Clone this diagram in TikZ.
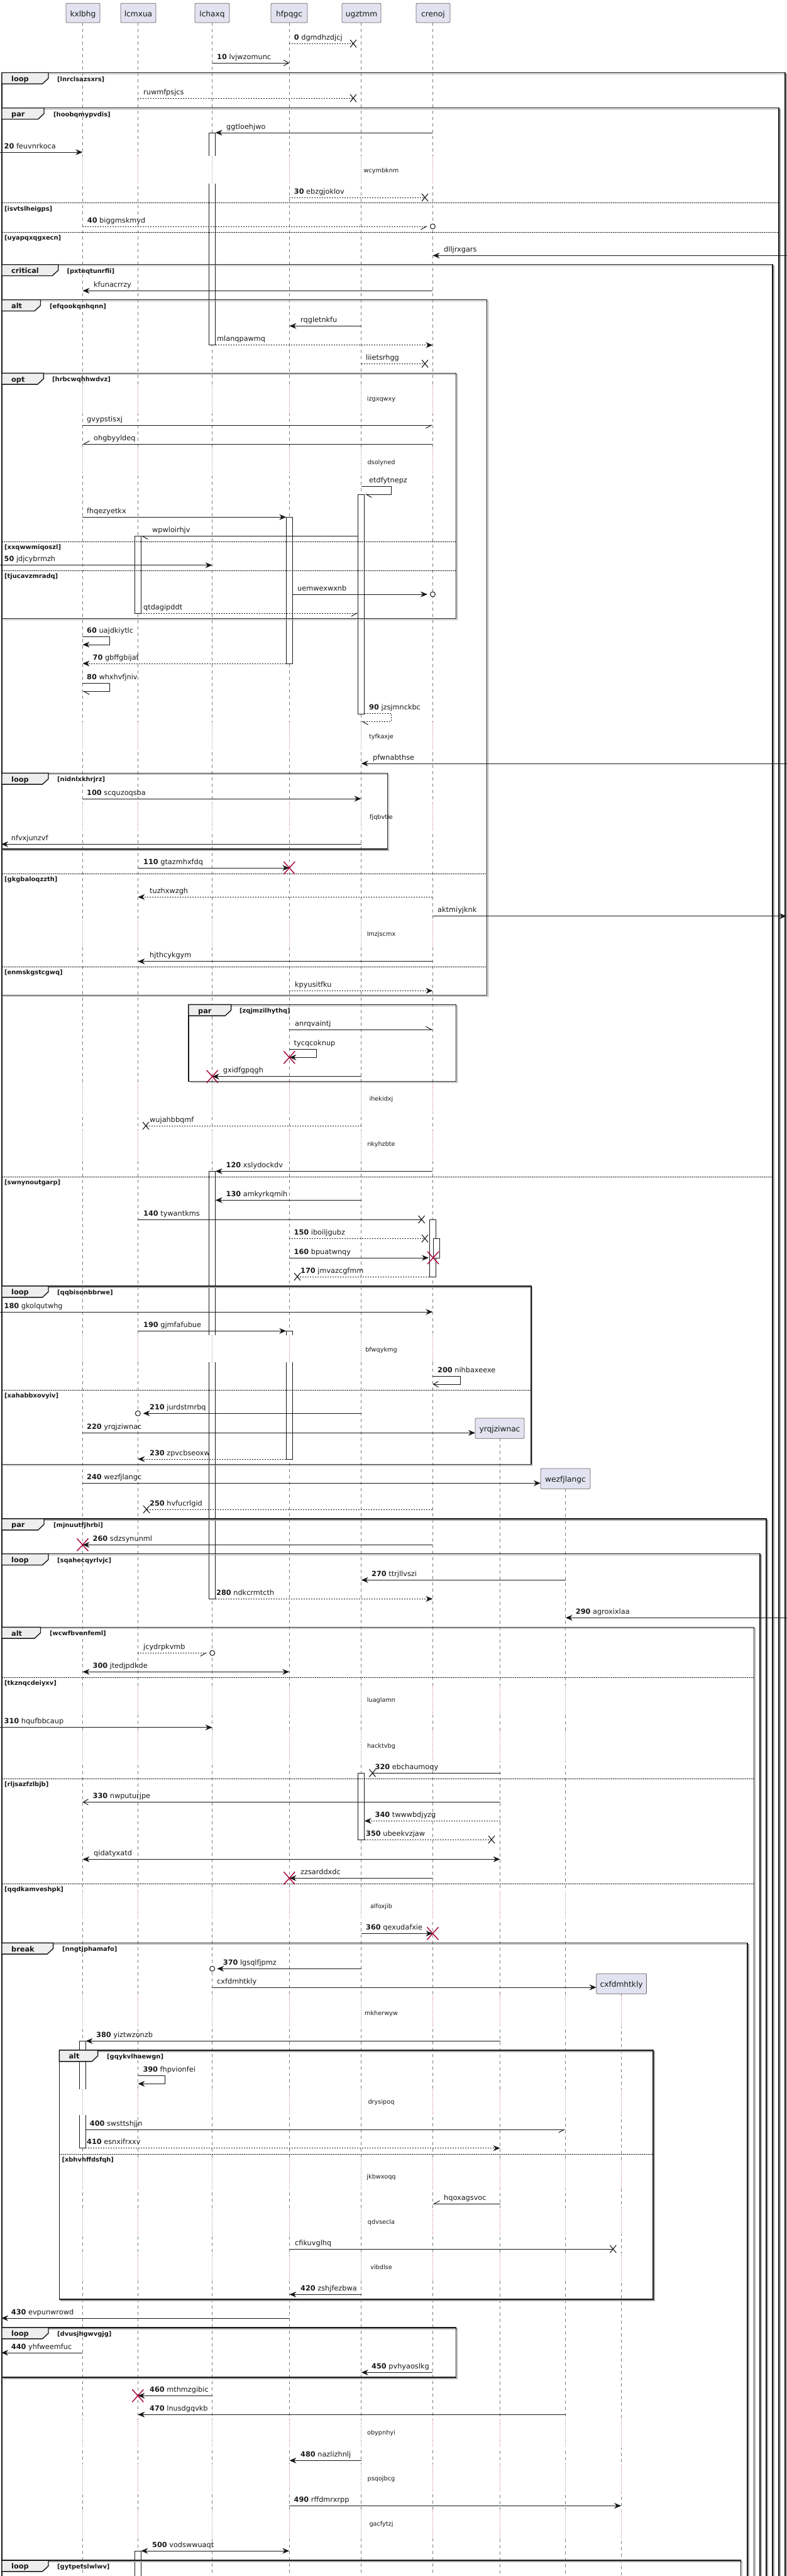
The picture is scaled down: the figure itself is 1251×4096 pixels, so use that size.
\documentclass[tikz,border=0pt]{standalone}
\usepackage{fontspec}
\setmainfont{DejaVu Sans}
\usetikzlibrary{arrows.meta}
\definecolor{lifegray}{RGB}{125,125,125}
\definecolor{delred}{RGB}{190,70,110}
\definecolor{destroyred}{RGB}{168,0,54}
\definecolor{partfill}{RGB}{226,226,240}
\definecolor{tabfill}{RGB}{238,238,238}
\definecolor{ink}{RGB}{24,24,24}
\newcommand\msgfont{\fontsize{11.3}{13}\selectfont}
\newcommand\delfont{\fontsize{9.7}{11}\selectfont}
\newcommand\condfont{\fontsize{9.9}{11}\selectfont\bfseries}
\newcommand\tabfont{\fontsize{11.3}{13}\selectfont\bfseries}
\newcommand\partfont{\fontsize{12.2}{14}\selectfont}
\newcommand\nb[1]{\textbf{#1}\ }
\def\xkx{131.4}\def\xlc{219.3}\def\xlh{337.7}\def\xhf{460.3}\def\xug{574.7}
\def\xcr{688.4}\def\xyr{795.6}\def\xwz{899.6}\def\xcx{988.2}
\def\Lsix{\xkx/lifegray,\xlc/delred,\xlh/lifegray,\xhf/delred,\xug/lifegray,\xcr/delred}
\def\Leight{\xkx/lifegray,\xlc/delred,\xlh/lifegray,\xhf/delred,\xug/lifegray,\xcr/delred,\xyr/delred,\xwz/lifegray}
\def\Lnine{\xkx/lifegray,\xlc/delred,\xlh/lifegray,\xhf/delred,\xug/lifegray,\xcr/delred,\xyr/delred,\xwz/lifegray,\xcx/delred}
\tikzset{
  life/.style={draw=lifegray, line width=0.8pt, dash pattern=on 5pt off 5pt},
  msg/.style={draw=ink, line width=1pt},
  dotm/.style={msg, dash pattern=on 2pt off 2pt},
  fh/.style={arrows={-Stealth[length=11pt,width=9pt,inset=3.5pt]}},
  fb/.style={arrows={Stealth[length=11pt,width=9pt,inset=3.5pt]-Stealth[length=11pt,width=9pt,inset=3.5pt]}},
  oh/.style={arrows={-Straight Barb[length=8pt,width=9pt]}},
  hh/.style={arrows={-Straight Barb[length=9pt,width=10pt,harpoon]}},
  hs/.style={arrows={-Straight Barb[length=9pt,width=10pt,harpoon,swap]}},
  lbl/.style={anchor=base west, inner sep=0pt, font=\msgfont, text=ink},
  dellbl/.style={anchor=base, inner sep=0pt, font=\delfont, text=ink},
  condlbl/.style={anchor=base west, inner sep=0pt, font=\condfont, text=ink},
  tablbl/.style={anchor=base west, inner sep=0pt, font=\tabfont, text=ink},
  partlbl/.style={anchor=base, inner sep=0pt, font=\partfont, text=ink},
  partbox/.style={draw=black!60, line width=0.8pt, fill=partfill, rounded corners=2pt},
  actbox/.style={draw=ink, line width=0.8pt, fill=white},
  frameline/.style={draw=ink, line width=1.4pt},
  frameshadow/.style={draw=black!35, line width=1.2pt},
  divline/.style={draw=ink, line width=1pt, dash pattern=on 1.5pt off 1.5pt}
}
% message: name, style, x1, x2, y, labelx, label
\newcommand\Msg[7]{%
  \coordinate (#1-s) at (#3,#5);
  \coordinate (#1-e) at (#4,#5);
  \draw[#2] (#1-s) -- (#1-e);
  \node[lbl] (#1-t) at (#6,#5-6) {#7};}
% self message: name, style, x1, xr, y1, y2, xend, labelx, label
\newcommand\Self[9]{%
  \coordinate (#1-a) at (#3,#5);
  \coordinate (#1-b) at (#4,#5);
  \coordinate (#1-c) at (#4,#6);
  \coordinate (#1-d) at (#7,#6);
  \draw[#2] (#1-a) -- (#1-b) -- (#1-c) -- (#1-d);
  \node[lbl] (#1-t) at (#8,#5-6) {#9};}
\newcommand\XLost[2]{\draw[ink, line width=1.1pt] (#1-5,#2-6) -- (#1+5,#2+6) (#1-5,#2+6) -- (#1+5,#2-6);}
\newcommand\XDead[2]{\draw[destroyred, line width=1.4pt] (#1-9,#2-10) -- (#1+9,#2+10) (#1-9,#2+10) -- (#1+9,#2-10);}
\newcommand\Circ[2]{\draw[ink, line width=1pt, fill=white] (#1,#2) circle (4pt);}
\newcommand\Act[3]{\draw[actbox] (#1-5,#2) rectangle (#1+5,#3);}
% delay: y1, y2, text centre y, text, lifelines
\newcommand\Delay[5]{%
  \foreach \dx/\dc in #5 {
    \fill[white] (\dx-7,#1) rectangle (\dx+7,#2);
    \draw[draw=\dc, line width=0.9pt, dash pattern=on 1pt off 2pt] (\dx,#1) -- (\dx,#2);
  }
  \node[dellbl] (dl-#4) at (606.5,#3+2.5) {#4};}
% participant box: name, x1, x2, ytop, ybot, text
\newcommand\PBox[6]{%
  \draw[partbox] (#2,#4) rectangle (#3,#5);
  \node[partlbl] (#1) at ({(#2+#3)/2},#4+21.2) {#6};}
% tab and texts of a frame: name, top, x1, tabright, label, cond, condx
\newcommand\FrameTab[7]{%
  \draw[frameline, fill=tabfill] (#3,#2) -- (#4,#2) -- (#4,#2+9) -- (#4-9.5,#2+17.8) -- (#3,#2+17.8) -- cycle;
  \node[tablbl] (#1-lab) at (#3+15,#2+13.8) {#5};
  \node[condlbl] (#1-cond) at (#7,#2+13.5) {#6};}
% closed frame: name, top, x1, x2, bottom
\newcommand\FrameC[5]{%
  \draw[frameshadow] (#3+2,#2+2) -- (#4+2,#2+2) -- (#4+2,#5+2) -- (#3+2,#5+2);
  \draw[frameline] (#3,#2) rectangle (#4,#5);}
% open frame (runs past the bottom): name, top, x1, x2
\newcommand\FrameO[4]{%
  \draw[frameshadow] (#3+2,#2+2) -- (#4+2,#2+2) -- (#4+2,4110);
  \draw[frameline] (#3,4110) -- (#3,#2) -- (#4,#2) -- (#4,4110);}
% divider: name, x1, x2, y, text
\newcommand\Divider[5]{%
  \draw[divline] (#2,#4) -- (#3,#4);
  \node[condlbl] (#1) at (#2+4,#4+12.3) {#5};}
\begin{document}
\begin{tikzpicture}[x=1pt, y=-1pt]
\useasboundingbox (0,0) rectangle (1251,4096);
\fill[white] (0,0) rectangle (1251,4096);
% lifelines
\draw[life] (\xkx,36) -- (\xkx,4110);
\draw[life] (\xlc,36) -- (\xlc,4110);
\draw[life] (\xlh,36) -- (\xlh,4110);
\draw[life] (\xhf,36) -- (\xhf,4110);
\draw[life] (\xug,36) -- (\xug,4110);
\draw[life] (\xcr,36) -- (\xcr,4110);
\draw[life] (\xyr,2287.3) -- (\xyr,4110);
\draw[life] (\xwz,2367.3) -- (\xwz,4110);
\draw[life] (\xcx,3170.3) -- (\xcx,4110);
% participants
\PBox{p-kx}{105}{159}{5.3}{36}{kxlbhg}
\PBox{p-lc}{192}{248}{5.3}{36}{lcmxua}
\PBox{p-lh}{310}{365}{5.3}{36}{lchaxq}
\PBox{p-hf}{431}{489}{5.3}{36}{hfpqgc}
\PBox{p-ug}{544}{606}{5.3}{36}{ugztmm}
\PBox{p-cr}{662}{716}{5.3}{36}{crenoj}
\PBox{p-yr}{756}{834}{2255}{2287.3}{yrqjziwnac}
\PBox{p-wz}{860}{939}{2335}{2367.3}{wezfjlangc}
\PBox{p-cx}{948.7}{1028.5}{3138.3}{3170.3}{cxfdmhtkly}
% activations
\Act{\xlh}{211}{548.7}
\Act{\xhf}{822.3}{1055}
\Act{\xug}{786}{1135}
\Act{\xlc}{852.3}{975}
\Act{\xlh}{1862.3}{2542.3}
\Act{\xcr}{1939}{2030}
\Act{\xcr+5.5}{1969.3}{2000}
\Act{\xhf}{2116.3}{2320}
\Act{\xug}{2819.3}{2925}
\Act{\xkx}{3245.3}{3415.7}
\Act{\xlc}{4056}{4110}
% delays
\Delay{248}{292}{272}{wcymbknm}{\Lsix}
\Delay{612}{657}{634.7}{izgxqwxy}{\Lsix}
\Delay{712}{752}{736}{dsolyned}{\Lsix}
\Delay{1148}{1193}{1172.3}{tyfkaxje}{\Lsix}
\Delay{1277}{1322}{1300}{fjqbvtie}{\Lsix}
\Delay{1460}{1507}{1486}{lmzjscmx}{\Lsix}
\Delay{1723}{1770}{1748.3}{ihekidxj}{\Lsix}
\Delay{1797}{1843}{1820}{nkyhzbte}{\Lsix}
\Delay{2123}{2166}{2146.7}{bfwqykmg}{\Lsix}
\Delay{2680}{2727}{2704.3}{luaglamn}{\Leight}
\Delay{2752}{2800}{2776.7}{hacktvbg}{\Leight}
\Delay{3007}{3052}{3032.3}{alfoxjib}{\Leight}
\Delay{3173}{3223}{3202.3}{mkherwyw}{\Lnine}
\Delay{3322}{3363}{3343.3}{drysipoq}{\Lnine}
\Delay{3433}{3480}{3462.3}{jkbwxoqq}{\Lnine}
\Delay{3510}{3553}{3534.3}{qdvsecla}{\Lnine}
\Delay{3583}{3627}{3606}{vibdlse}{\Lnine}
\Delay{3847}{3892}{3869}{obypnhyi}{\Lnine}
\Delay{3918}{3963}{3942.3}{psqojbcg}{\Lnine}
\Delay{3990}{4037}{4014.3}{gacfytzj}{\Lnine}
% frames
\FrameO{f1}{115.5}{3}{1249}
\FrameO{f2}{171.7}{3}{1239}
\FrameO{f3}{420.7}{3}{1229}
\FrameC{f4}{476.7}{3}{774.6}{1582.7}
\FrameC{f5}{593.3}{3}{725.5}{983.3}
\FrameC{f6}{1229.3}{3}{616.6}{1350}
\FrameC{f7}{1597.3}{300}{725.5}{1719.3}
\FrameC{f8}{2045}{3}{844.8}{2328.3}
\FrameO{f9}{2415}{3}{1219}
\FrameO{f10}{2470.7}{3}{1209}
\FrameO{f11}{2587.3}{3}{1199.5}
\FrameO{f12}{3089.3}{3}{1189}
\FrameC{f13}{3260}{94.3}{1039}{3656}
\FrameC{f14}{3701}{3}{725.5}{3780}
\FrameO{f15}{4071}{3}{1178.5}
\FrameTab{f1}{115.5}{3}{77}{loop}{[lnrclsazsxrs]}{91}
\FrameTab{f2}{171.7}{3}{70}{par}{[hoobqmypvdis]}{85}
\FrameTab{f3}{420.7}{3}{92.7}{critical}{[pxteqtunrfli]}{106.4}
\FrameTab{f4}{476.7}{3}{64.5}{alt}{[efqookqnhqnn]}{79}
\FrameTab{f5}{593.3}{3}{69.3}{opt}{[hrbcwqhhwdvz]}{83}
\FrameTab{f6}{1229.3}{3}{77}{loop}{[nidnlxkhrjrz]}{91}
\FrameTab{f7}{1597.3}{300}{367.6}{par}{[zqjmzilhythq]}{381}
\FrameTab{f8}{2045}{3}{77}{loop}{[qqbisonbbrwe]}{91}
\FrameTab{f9}{2415}{3}{70}{par}{[mjnuutfjhrbi]}{85}
\FrameTab{f10}{2470.7}{3}{77}{loop}{[sqahecqyrlvjc]}{91}
\FrameTab{f11}{2587.3}{3}{64.5}{alt}{[wcwfbvenfeml]}{79}
\FrameTab{f12}{3089.3}{3}{84.6}{break}{[nngtjphamafo]}{99}
\FrameTab{f13}{3260}{94.3}{155.6}{alt}{[gqykvlhaewgn]}{170}
\FrameTab{f14}{3701}{3}{77}{loop}{[dvusjhgwvgjg]}{91}
\FrameTab{f15}{4071}{3}{77}{loop}{[gytpetslwlwv]}{91}
% dividers
\Divider{d1}{3}{1239}{322.7}{[isvtslheigps]}
\Divider{d2}{3}{1239}{369.3}{[uyapqxqgxecn]}
\Divider{d5}{3}{725.5}{861.3}{[xxqwwmiqoszl]}
\Divider{d6}{3}{725.5}{907.3}{[tjucavzmradq]}
\Divider{d3}{3}{774.6}{1389.3}{[gkgbaloqzzth]}
\Divider{d4}{3}{774.6}{1537.3}{[enmskgstcgwq]}
\Divider{d7}{3}{1229}{1871.3}{[swnynoutgarp]}
\Divider{d8}{3}{844.8}{2210.3}{[xahabbxovyiv]}
\Divider{d9}{3}{1199.5}{2667}{[tkznqcdeiyxv]}
\Divider{d10}{3}{1199.5}{2828.3}{[rljsazfzlbjb]}
\Divider{d11}{3}{1199.5}{2995.3}{[qqdkamveshpk]}
\Divider{d12}{94.3}{1039}{3425}{[xbhvhffdsfqh]}
% messages
\Msg{m0}{dotm}{\xhf}{562}{69.3}{467.7}{\nb{0}dgmdhzdjcj} \XLost{562}{69.3}
\Msg{m10}{msg,oh}{\xlh}{\xhf}{100}{345}{\nb{10}lvjwzomunc}
\Msg{m11}{dotm}{\xlc}{562}{156}{228}{ruwmfpsjcs} \XLost{562}{156}
\Msg{m12}{msg,fh}{\xcr}{342.6}{211}{360}{ggtloehjwo}
\Msg{m20}{msg,fh}{0}{\xkx}{242}{6.5}{\nb{20}feuvnrkoca}
\Msg{m30}{dotm}{\xhf}{676}{314}{467.7}{\nb{30}ebzgjoklov} \XLost{676}{314}
\Msg{m40}{dotm,hs}{\xkx}{680.4}{360}{138.7}{\nb{40}biggmskmyd} \Circ{\xcr}{360}
\Msg{m41}{msg,fh}{1260}{\xcr}{406.3}{706}{dlljrxgars}
\Msg{m42}{msg,fh}{\xcr}{\xkx}{462.3}{149}{kfunacrrzy}
\Msg{m43}{msg,fh}{\xug}{\xhf}{518.3}{478}{rqgletnkfu}
\Msg{m44}{dotm,fh}{342.6}{\xcr}{548.7}{345}{mlanqpawmq}
\Msg{m45}{dotm}{\xug}{676}{578.3}{582}{liietsrhgg} \XLost{676}{578.3}
\Msg{m46}{msg,hs}{\xkx}{\xcr}{676}{138}{gvypstisxj}
\Msg{m47}{msg,hs}{\xcr}{\xkx}{706}{149}{ohgbyyldeq}
\Self{m48}{msg,hh}{\xug}{622}{773.3}{786}{580.4}{587}{etdfytnepz}
\Msg{m49}{msg,fh}{\xkx}{455.3}{822.3}{138}{fhqezyetkx}
\Msg{m4a}{msg,hh}{569.7}{224.3}{852.3}{242}{wpwloirhjv}
\Msg{m50}{msg,fh}{0}{\xlh}{898.7}{6.5}{\nb{50}jdjcybrmzh}
\Msg{m51}{msg,fh}{465.3}{680}{945}{473}{uemwexwxnb} \Circ{\xcr}{945}
\Msg{m52}{dotm,hs}{224.3}{569.7}{975}{228}{qtdagipddt}
\Self{m60}{msg,fh}{\xkx}{174}{1012.3}{1025}{\xkx}{138}{\nb{60}uajdkiytlc}
\Msg{m70}{dotm,fh}{455.3}{\xkx}{1055}{147.5}{\nb{70}gbffgbijaf}
\Self{m80}{msg,hh}{\xkx}{174}{1086.7}{1099.3}{\xkx}{138}{\nb{80}whxhvfjniv}
\Self{m90}{dotm,hh}{579.7}{622}{1134.3}{1147.3}{\xug}{587}{\nb{90}jzsjmnckbc}
\Msg{m91}{msg,fh}{1260}{\xug}{1214}{593}{pfwnabthse}
\Msg{m100}{msg,fh}{\xkx}{\xug}{1270}{138}{\nb{100}scquzoqsba}
\Msg{m101}{msg,fh}{\xug}{2}{1342.3}{17.7}{nfvxjunzvf}
\Msg{m110}{msg,fh}{\xlc}{\xhf}{1380}{228}{\nb{110}gtazmhxfdq} \XDead{\xhf}{1380}
\Msg{m111}{dotm,fh}{\xcr}{\xlc}{1426.3}{238}{tuzhxwzgh}
\Msg{m112}{msg,fh}{\xcr}{1251}{1456.7}{696}{aktmiyjknk}
\Msg{m113}{msg,fh}{\xcr}{\xlc}{1528.7}{238}{hjthcykgym}
\Msg{m114}{dotm,fh}{\xhf}{\xcr}{1575.3}{469}{kpyusitfku}
\Msg{m115}{msg,hh}{\xhf}{\xcr}{1637.3}{469}{anrqvaintj}
\Self{m116}{msg,fh}{\xhf}{503.8}{1668.3}{1681.3}{\xhf}{467.5}{tycqcoknup} \XDead{\xhf}{1681.3}
\Msg{m117}{msg,fh}{\xug}{\xlh}{1711.7}{354.7}{gxidfgpqgh} \XDead{\xlh}{1711.7}
\Msg{m118}{dotm}{\xug}{232}{1790}{238}{wujahbbqmf} \XLost{232}{1790}
\Msg{m120}{msg,fh}{\xcr}{342.7}{1862.3}{359.5}{\nb{120}xslydockdv}
\Msg{m130}{msg,fh}{\xug}{342.7}{1908.3}{359.5}{\nb{130}amkyrkqmih}
\Msg{m140}{msg}{\xlc}{670.6}{1939}{228}{\nb{140}tywantkms} \XLost{670.6}{1939}
\Msg{m150}{dotm}{\xhf}{676}{1969.3}{467.5}{\nb{150}iboiljgubz} \XLost{676}{1969.3}
\Msg{m160}{msg,fh}{\xhf}{682}{2000}{467.5}{\nb{160}bpuatwnqy} \XDead{689}{2000}
\Msg{m170}{dotm}{683.4}{473}{2030}{478}{\nb{170}jmvazcgfmm} \XLost{473}{2030}
\Msg{m180}{msg,fh}{0}{\xcr}{2086}{6.5}{\nb{180}gkolqutwhg}
\Msg{m190}{msg,fh}{\xlc}{455.3}{2116.3}{228}{\nb{190}gjmfafubue}
\Self{m200}{msg,oh}{\xcr}{732}{2188.3}{2201}{\xcr}{696}{\nb{200}nihbaxeexe}
\Msg{m210}{msg,fh}{\xug}{227.5}{2247.3}{238}{\nb{210}jurdstmrbq} \Circ{\xlc}{2247.3}
\Msg{m220}{msg,fh}{\xkx}{756}{2278.3}{138}{\nb{220}yrqjziwnac}
\Msg{m230}{dotm,fh}{455.3}{\xlc}{2320}{238}{\nb{230}zpvcbseoxw}
\Msg{m240}{msg,fh}{\xkx}{860}{2358.3}{138}{\nb{240}wezfjlangc}
\Msg{m250}{dotm}{\xcr}{233}{2400}{238}{\nb{250}hvfucrlgid} \XLost{233}{2400}
\Msg{m260}{msg,fh}{\xcr}{\xkx}{2456.3}{147.5}{\nb{260}sdzsynunml} \XDead{\xkx}{2456.3}
\Msg{m270}{msg,fh}{\xwz}{\xug}{2512.3}{591}{\nb{270}ttrjllvszi}
\Msg{m280}{dotm,fh}{342.7}{\xcr}{2542.3}{344}{\nb{280}ndkcrmtcth}
\Msg{m290}{msg,fh}{1260}{\xwz}{2572.3}{915.7}{\nb{290}agroxixlaa}
\Msg{m291}{dotm,hs}{\xlc}{329.7}{2628.3}{228}{jcydrpkvmb} \Circ{\xlh}{2628.3}
\Msg{m300}{msg,fb}{\xkx}{\xhf}{2658.3}{147.5}{\nb{300}jtedjpdkde}
\Msg{m310}{msg,fh}{0}{\xlh}{2746.7}{6.5}{\nb{310}hqufbbcaup}
\Msg{m320}{msg}{\xyr}{592.5}{2819.3}{596.5}{\nb{320}ebchaumoqy} \XLost{592.5}{2819.3}
\Msg{m330}{msg,oh}{\xyr}{\xkx}{2865.3}{147.5}{\nb{330}nwputurjpe}
\Msg{m340}{dotm,fh}{\xyr}{579.7}{2895.3}{596.5}{\nb{340}twwwbdjyzg}
\Msg{m350}{dotm}{579.7}{782}{2925}{582}{\nb{350}ubeekvzjaw} \XLost{782}{2925}
\Msg{m351}{msg,fb}{\xkx}{\xyr}{2956.3}{149}{qidatyxatd}
\Msg{m352}{msg,fh}{\xcr}{\xhf}{2986.3}{478}{zzsarddxdc} \XDead{\xhf}{2986.3}
\Msg{m360}{msg,fh}{\xug}{\xcr}{3074.3}{582}{\nb{360}qexudafxie} \XDead{\xcr}{3074.3}
\Msg{m370}{msg,fh}{\xug}{345.2}{3130.3}{354.7}{\nb{370}lgsqlfjpmz} \Circ{\xlh}{3130.3}
\Msg{m371}{msg,fh}{\xlh}{948.7}{3160}{345}{cxfdmhtkly}
\Msg{m380}{msg,fh}{\xyr}{136.4}{3245.3}{153}{\nb{380}yiztwzonzb}
\Self{m390}{msg,fh}{\xlc}{262.8}{3300}{3313.3}{\xlc}{227.3}{\nb{390}fhpvionfei}
\Msg{m400}{msg,hs}{136.4}{\xwz}{3386}{142.7}{\nb{400}swsttshjjn}
\Msg{m410}{dotm,fh}{136.4}{\xyr}{3415.7}{138}{\nb{410}esnxifrxxv}
\Msg{m411}{msg,hs}{\xyr}{\xcr}{3504.3}{706}{hqoxagsvoc}
\Msg{m412}{msg}{\xhf}{975.3}{3576}{469}{cfikuvglhq} \XLost{975.3}{3576}
\Msg{m420}{msg,fh}{\xug}{\xhf}{3648.3}{478}{\nb{420}zshjfezbwa}
\Msg{m430}{msg,fh}{\xhf}{2}{3686}{17.7}{\nb{430}evpunwrowd}
\Msg{m440}{msg,fh}{\xkx}{2}{3741}{17.7}{\nb{440}yhfweemfuc}
\Msg{m450}{msg,fh}{\xcr}{\xug}{3772.3}{591}{\nb{450}pvhyaoslkg}
\Msg{m460}{msg,fh}{\xlh}{\xlc}{3809.3}{238}{\nb{460}mthmzgibic} \XDead{\xlc}{3809.3}
\Msg{m470}{msg,fh}{\xwz}{\xlc}{3839.3}{238}{\nb{470}lnusdgqvkb}
\Msg{m480}{msg,fh}{\xug}{\xhf}{3912.3}{478}{\nb{480}nazlizhnlj}
\Msg{m490}{msg,fh}{\xhf}{\xcx}{3984.3}{467.5}{\nb{490}rffdmrxrpp}
\Msg{m500}{msg,fb}{\xhf}{224.3}{4056}{242}{\nb{500}vodswwuaqt}
\end{tikzpicture}
\end{document}
